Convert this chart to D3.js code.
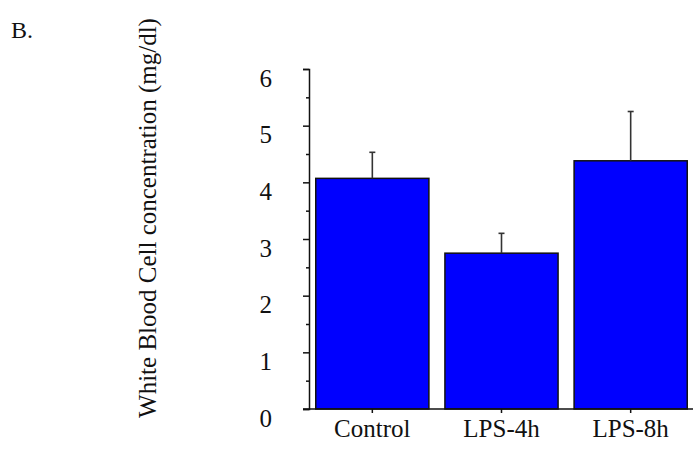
<!DOCTYPE html>
<html>
<head>
<meta charset="utf-8">
<script src="https://cdn.jsdelivr.net/npm/d3@7"></script>
<style>
  body { margin: 0; background: #fff; }
  text { font-family: "Liberation Serif", "Times New Roman", serif; fill: #111; }
</style>
</head>
<body>
<svg id="chart" width="693" height="451"></svg>
<script>
var groups = ["Control", "LPS-4h", "LPS-8h"];
var means = [4.07, 2.75, 4.38];
var errTops = [4.53, 3.10, 5.25];
var yTicks = [0, 1, 2, 3, 4, 5, 6];
var yMinorTicks = [0.5, 1.5, 2.5, 3.5, 4.5, 5.5];

var width = 693, height = 451;
var svg = d3.select("#chart");

var x = d3.scaleBand()
    .domain(groups)
    .range([308, 695])
    .paddingInner(0.124)
    .paddingOuter(0.06);

var y = d3.scaleLinear()
    .domain([0, 6])
    .range([409, 69]);

// panel letter
svg.append("text")
    .text("B.")
    .attr("x", 11)
    .attr("y", 38)
    .style("font-size", "24px");

// y title
svg.append("text")
    .text("White Blood Cell concentration (mg/dl)")
    .attr("transform", "translate(156," + 218 + ") rotate(-90)")
    .attr("text-anchor", "middle")
    .style("font-size", "25px");

// bars
svg.selectAll("rect.bar")
    .data(groups)
    .enter()
    .append("rect")
    .attr("class", "bar")
    .attr("x", d => x(d))
    .attr("y", (d, i) => y(means[i]))
    .attr("width", x.bandwidth())
    .attr("height", (d, i) => y(0) - y(means[i]))
    .attr("fill", "#0000ff")
    .attr("stroke", "#111")
    .attr("stroke-width", 1.5);

// error bars
groups.forEach((g, i) => {
    let cx = x(g) + x.bandwidth() / 2;
    svg.append("line")
        .attr("x1", cx).attr("x2", cx)
        .attr("y1", y(means[i])).attr("y2", y(errTops[i]))
        .attr("stroke", "#333")
        .attr("stroke-width", 1.6);
    svg.append("line")
        .attr("x1", cx - 3).attr("x2", cx + 3)
        .attr("y1", y(errTops[i])).attr("y2", y(errTops[i]))
        .attr("stroke", "#333")
        .attr("stroke-width", 1.6);
});

// minor y ticks
svg.append("g")
    .attr("transform", "translate(309,0)")
    .call(d3.axisLeft(y).tickValues(yMinorTicks).tickSize(3).tickFormat(""))
    .call(g => g.select(".domain").remove())
    .selectAll("line").attr("stroke", "#111").attr("stroke-width", 1.5);

// y axis
var yAxisG = svg.append("g")
    .attr("transform", "translate(309,0)")
    .call(d3.axisLeft(y).tickValues(yTicks).tickSize(6).tickSizeOuter(6).tickPadding(31).tickFormat(d3.format("d")));
yAxisG.selectAll("path, line").attr("stroke", "#111").attr("stroke-width", 1.5);
yAxisG.selectAll("text")
    .attr("y", 9)
    .style("font-size", "25px")
    .attr("fill", "#111");

// baseline
svg.append("line")
    .attr("x1", 303).attr("x2", width)
    .attr("y1", y(0)).attr("y2", y(0))
    .attr("stroke", "#111")
    .attr("stroke-width", 1.5);

// x axis
var xAxisG = svg.append("g")
    .attr("transform", "translate(0," + y(0) + ")")
    .call(d3.axisBottom(x).tickSize(4).tickPadding(6.5));
xAxisG.select(".domain").remove();
xAxisG.selectAll("line").attr("stroke", "#111").attr("stroke-width", 1.5);
xAxisG.selectAll("text")
    .style("font-size", "25px")
    .attr("fill", "#111");
</script>
</body>
</html>
